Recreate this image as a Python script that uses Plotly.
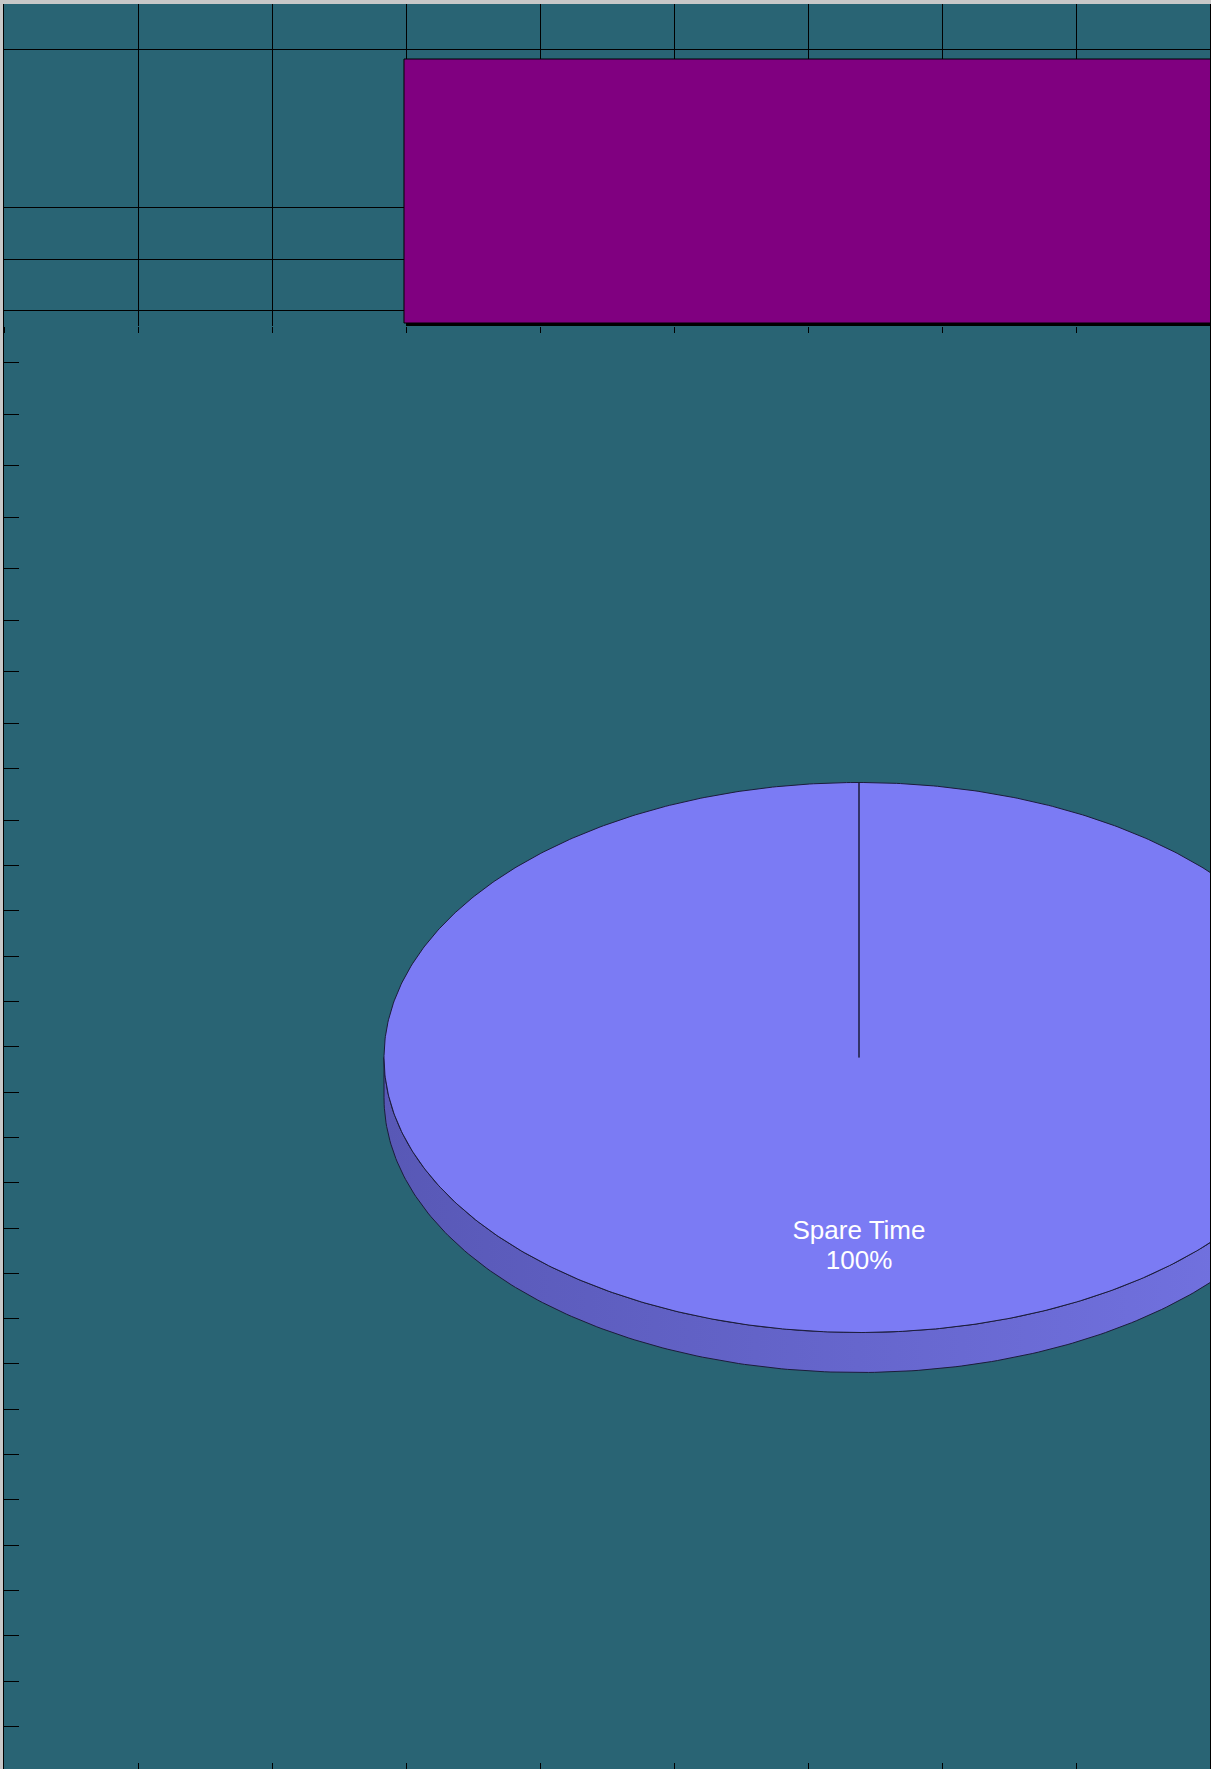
import numpy as np
import plotly.graph_objects as go

# ---------------- data ----------------
pie_labels = ["Spare Time"]
pie_values = [100]

bar_labels = ["Spare Time"]
bar_values = [264]  # height of the bar in the upper panel's units

upper_x_grid = list(range(0, 10))
upper_y_grid = [12.6, 63.4, 115.4, 273.4, 319]
left_tick_values = [362.3, 414.0, 465.4, 517.0, 568.7, 620.3, 671.8, 723.4, 768.3,
                    820.0, 865.3, 910.7, 956.0, 1001.3, 1046.7, 1092.0, 1137.3, 1182.7,
                    1228.0, 1273.3, 1318.3, 1363.7, 1409.0, 1454.3, 1499.7, 1545.0,
                    1590.3, 1635.7, 1681.0, 1726.3]

# ---------------- style / layout constants ----------------
W, H = 1211, 1769
ML, MR, MT, MB = 4, 1, 4, 0
TEAL = "#296474"
PURPLE = "#800080"
PIE_TOP = "#7b7bf4"
OUTLINE = "#1c1c3a"

# upper panel
UPPER_BOTTOM_PX = 326
upper_dom_bottom = (H - UPPER_BOTTOM_PX) / (H - MT - MB)
BAR_START, BAR_END = 2.985, 12.0
SHADOW_DX, SHADOW_DY = 3 / 134, 3

# pie geometry (lower panel units)
PIE_CX, PIE_CY = 859, 1057.5
PIE_RX, PIE_RY = 475, 275
PIE_DEPTH = 40
LABEL_R = 0.69
LABEL_LINE = 30
START_ANGLE = 90

fig = go.Figure()

# ---------- pie (elliptical 3-D) ----------
total = sum(pie_values)
angle = START_ANGLE
for lab, val in zip(pie_labels, pie_values):
    frac = val / total
    a0, a1 = angle, angle - 360 * frac
    # side (front half only)
    lo, hi = max(min(a0, a1), -180), min(max(a0, a1), 0)
    if hi > lo:
        th = np.radians(np.linspace(lo, hi, 240))
    else:
        th = np.radians(np.linspace(-180, 0, 240))
    ex = PIE_CX + PIE_RX * np.cos(th)
    ey = PIE_CY - PIE_RY * np.sin(th)
    sx = np.concatenate([ex, ex[::-1], ex[:1]])
    sy = np.concatenate([ey, ey[::-1] + PIE_DEPTH, ey[:1]])
    fig.add_trace(go.Scatter(
        x=sx, y=sy, mode="lines", fill="toself",
        fillgradient=dict(type="horizontal",
                          colorscale=[[0, "#5858b6"], [1, "#7474e4"]]),
        line=dict(color=OUTLINE, width=1), hoverinfo="skip"))
    # top face
    th = np.radians(np.linspace(a0, a1, 720))
    px = np.concatenate([[PIE_CX], PIE_CX + PIE_RX * np.cos(th), [PIE_CX]])
    py = np.concatenate([[PIE_CY], PIE_CY - PIE_RY * np.sin(th), [PIE_CY]])
    fig.add_trace(go.Scatter(
        x=px, y=py, mode="lines", fill="toself", fillcolor=PIE_TOP,
        line=dict(color=OUTLINE, width=1), hoverinfo="skip"))
    # label
    mid = np.radians((a0 + a1) / 2)
    lx = PIE_CX + LABEL_R * PIE_RX * np.cos(mid)
    ly = PIE_CY - LABEL_R * PIE_RY * np.sin(mid)
    fig.add_trace(go.Scatter(
        x=[lx, lx], y=[ly - LABEL_LINE / 2, ly + LABEL_LINE / 2], mode="text",
        text=[lab, f"{frac * 100:.0f}%"],
        textfont=dict(color="white", size=26, family="Liberation Sans, Arial"),
        hoverinfo="skip"))
    angle = a1

# ---------- upper panel bar ----------
bar_center = (BAR_START + BAR_END) / 2
bar_width = BAR_END - BAR_START
fig.add_trace(go.Bar(
    x=[bar_center + SHADOW_DX] * len(bar_values), y=bar_values, base=-SHADOW_DY,
    width=bar_width, marker=dict(color="black", line=dict(width=0)),
    xaxis="x2", yaxis="y2", hoverinfo="skip"))
fig.add_trace(go.Bar(
    x=[bar_center] * len(bar_values), y=bar_values, base=0, name=bar_labels[0],
    width=bar_width, marker=dict(color=PURPLE, line=dict(color="black", width=1)),
    xaxis="x2", yaxis="y2", hoverinfo="skip"))

fig.update_layout(
    width=W, height=H,
    margin=dict(l=ML, r=MR, t=MT, b=MB, pad=0),
    paper_bgcolor="#c8c8c8", plot_bgcolor=TEAL,
    showlegend=False, hovermode=False, barmode="overlay",
    xaxis=dict(range=[ML, W - MR], domain=[0, 1], showgrid=False, zeroline=False,
               ticks="inside", ticklen=6, tickcolor="black", tickwidth=1,
               tick0=ML, dtick=134, showticklabels=False, showline=False,
               anchor="y"),
    yaxis=dict(range=[H - MB, MT], domain=[0, 1], showgrid=False, zeroline=False,
               tickmode="array", tickvals=left_tick_values,
               ticks="inside", ticklen=15, tickcolor="black", tickwidth=1,
               showticklabels=False, showline=True, linecolor="black",
               linewidth=1, mirror=True, anchor="x"),
    xaxis2=dict(range=[0, 9], domain=[0, 1], anchor="y2", showgrid=True,
                gridcolor="black", gridwidth=1, zeroline=False,
                tickmode="array", tickvals=upper_x_grid, ticks="outside",
                ticklen=6, tickcolor="black", showticklabels=False,
                showline=False),
    yaxis2=dict(range=[-3, 319], domain=[upper_dom_bottom, 1], anchor="x2",
                showgrid=True, gridcolor="black", gridwidth=1, zeroline=False,
                tickmode="array", tickvals=upper_y_grid, ticks="",
                showticklabels=False, showline=True, linecolor="black",
                linewidth=1, mirror=True),
)

fig.write_html("out.html", config={"displayModeBar": False},
               post_script="document.body.style.margin='0';"
                           "document.body.style.overflow='hidden';")
